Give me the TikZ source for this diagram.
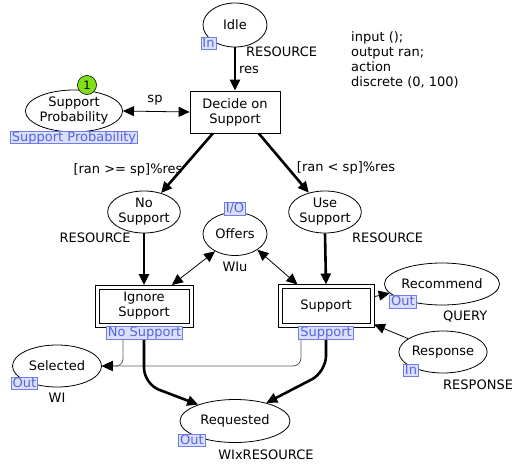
\documentclass[tikz,border=0pt]{standalone}
\usepackage{fontspec}
\setmainfont{DejaVu Sans}
\usetikzlibrary{shapes.geometric,arrows.meta,calc}
\definecolor{tagfill}{HTML}{DCDFFA}
\definecolor{tagdraw}{HTML}{6F7FE6}
\definecolor{tagtext}{HTML}{5466DD}
\definecolor{tokengreen}{HTML}{7FE01A}
\definecolor{sidearc}{HTML}{5A5A5A}
\tikzset{
  netfont/.style={font=\fontsize{13}{15}\selectfont},
  place/.style={ellipse, draw, line width=0.8pt, inner sep=0pt, netfont, align=center},
  trans/.style={rectangle, draw, line width=0.8pt, inner sep=0pt, netfont, align=center},
  subtrans/.style={rectangle, draw, line width=0.8pt, inner sep=0pt, outer sep=4pt, netfont, align=center},
  subframe/.style={draw, line width=0.8pt},
  tagbox/.style={rectangle, draw=tagdraw, fill=tagfill, text=tagtext, line width=0.7pt,
    inner xsep=1.5pt, inner ysep=0.2pt, text height=9.5pt, text depth=2.5pt, netfont},
  lbl/.style={inner sep=0pt, netfont},
  tip/.style={-{Triangle[length=11pt,width=10pt,color=black]}},
  tips/.style={{Triangle[length=11pt,width=10pt]}-{Triangle[length=11pt,width=10pt]}},
  heavyarc/.style={tip, line width=2.6pt},
  lightarc/.style={line width=0.8pt},
}
\begin{document}
\begin{tikzpicture}[x=1pt, y=-1pt]
\useasboundingbox (0,0) rectangle (512,466);

% places
\node[place, minimum width=64pt, minimum height=44pt] (idle) at (235,25) {Idle};
\node[place, minimum width=96pt, minimum height=42pt] (prob) at (74,111) {Support\\Probability};
\node[place, minimum width=65pt, minimum height=42pt] (nosup) at (144,212) {No\\Support};
\node[place, minimum width=65pt, minimum height=42pt] (usesup) at (325,212) {Use\\Support};
\node[place, minimum width=64pt, minimum height=43pt] (offers) at (235,234) {Offers};
\node[place, minimum width=105pt, minimum height=42pt] (recommend) at (442,284) {Recommend};
\node[place, minimum width=83pt, minimum height=42pt] (response) at (443,352) {Response};
\node[place, minimum width=89pt, minimum height=42pt] (selected) at (57,366) {Selected};
\node[place, minimum width=110pt, minimum height=43pt] (requested) at (235,421) {Requested};

% transitions
\node[trans, minimum width=90pt, minimum height=42pt] (decide) at (235,112) {Decide on\\Support};
\node[subtrans, minimum width=90pt, minimum height=34pt] (ignore) at (144,306) {Ignore\\Support};
\node[subtrans, minimum width=88pt, minimum height=35pt] (support) at (326,306) {Support};
% outer frame of the substitution transitions
\draw[subframe] (ignore.south west) rectangle (ignore.north east);
\draw[subframe] (support.south west) rectangle (support.north east);

% initial marking token
\node[circle, draw, fill=tokengreen, line width=0.6pt, minimum size=19pt, inner sep=0pt,
  font=\fontsize{11.5}{13}\selectfont] (token) at (87,85) {1};

% arcs
\draw[heavyarc] (idle.south) -- (decide.north);
\draw[tips, lightarc] (prob.east) -- (decide.west);
\draw[heavyarc] (decide.-136) -- (nosup.48);
\draw[heavyarc] (decide.-42) -- (usesup.130);
\draw[heavyarc] (nosup.south) -- (ignore.north);
\draw[heavyarc] (usesup.south) -- (support.north);
\draw[tips, lightarc] (offers.-139) -- (ignore.37);
\draw[tips, lightarc] (offers.-35) -- (support.143);
\draw[tip, lightarc] (support.11) -- (recommend.-170);
\draw[tip, lightarc] (response.159) -- (support.-21.6);
\draw[tip, lightarc, draw=sidearc, rounded corners=7pt]
  ($(ignore.south)+(-21,0)$) |- (selected.east);
\draw[tip, lightarc, draw=sidearc, rounded corners=8pt]
  ($(support.south)+(-25,0)$) |- (selected.east);
\coordinate (ibend) at (144,384);
\coordinate (sbend) at (326,372);
\draw[heavyarc, rounded corners=16pt] (ignore.south) -- (ibend) -- (requested.156);
\draw[heavyarc, rounded corners=16pt] (support.south) -- (sbend) -- (requested.30);

% arc inscriptions
\node[lbl] (spl) at (155,100) {sp};
\node[lbl] (resl) at (249,70) {res};
\node[lbl] (gteq) at (128,170) {[ran >= sp]\%res};
\node[lbl] (lt) at (346,168) {[ran < sp]\%res};

% colour sets
\node[lbl, anchor=west] (idlecs) at (246,52) {RESOURCE};
\node[lbl] (nosupcs) at (95,238) {RESOURCE};
\node[lbl, anchor=west] (usesupcs) at (352,238) {RESOURCE};
\node[lbl] (offerscs) at (235,267) {WIu};
\node[lbl, anchor=west] (reccs) at (443,317) {QUERY};
\node[lbl, anchor=west] (respcs) at (443,385) {RESPONSE};
\node[lbl] (selcs) at (57,398) {WI};
\node[lbl] (reqcs) at (266,455) {WIxRESOURCE};

% transition code segment
\node[lbl, anchor=north west, align=left] (code) at (351,31)
  {input ();\\output ran;\\action\\discrete (0, 100)};

% port and fusion tags
\node[tagbox] (idletag) at (208.5,43.5) {In};
\node[tagbox] (probtag) at (74,137.5) {Support Probability};
\node[tagbox] (offerstag) at (235,209) {I/O};
\node[tagbox] (ignoretag) at (144.5,333) {No Support};
\node[tagbox] (supporttag) at (326,333) {Support};
\node[tagbox] (rectag) at (403,302) {Out};
\node[tagbox] (resptag) at (411,370.5) {In};
\node[tagbox] (seltag) at (24.5,383.5) {Out};
\node[tagbox] (reqtag) at (192,440.5) {Out};
\end{tikzpicture}
\end{document}
